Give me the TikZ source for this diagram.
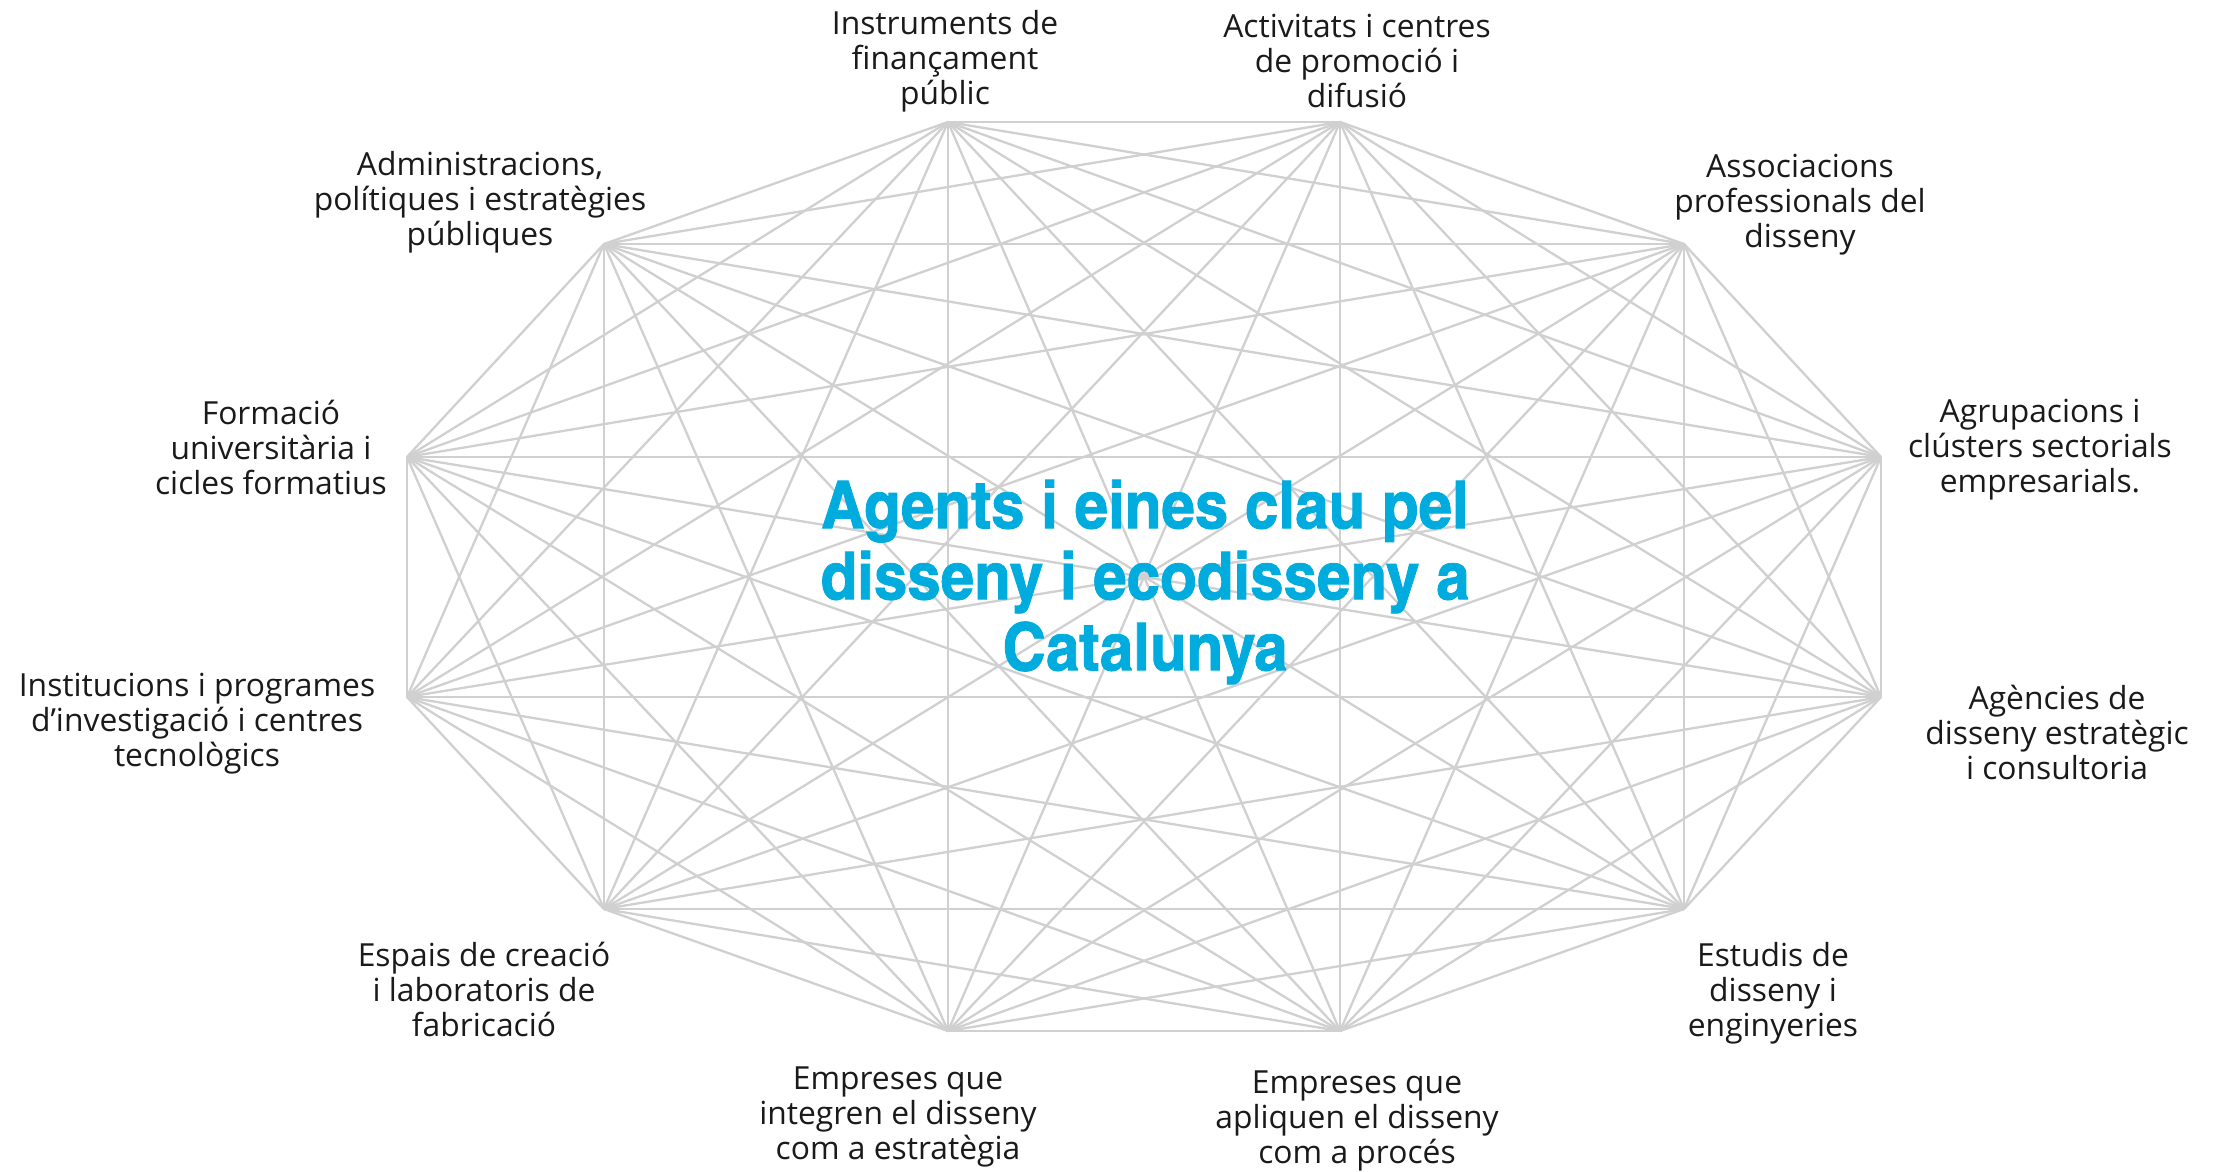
\documentclass[tikz,border=0pt]{standalone}
\usepackage{fontspec}
\setmainfont{Open Sans}
\newfontfamily\titlefont[FakeBold=1.2]{texgyreheroscn-bold.otf}
\definecolor{edgegray}{RGB}{208,208,208}
\definecolor{titleblue}{RGB}{0,172,222}
\definecolor{labeltext}{RGB}{26,26,26}
\newcommand{\titlelines}[1]{\scalebox{1.11}[1]{\setlength{\tabcolsep}{0pt}\begin{tabular}{c}#1\end{tabular}}}
\begin{document}
\begin{tikzpicture}[x=1pt,y=-1pt,
  edge/.style={draw=edgegray,line width=2.3pt},
  agent/.style={align=center,text=labeltext,inner sep=0pt,font=\fontsize{31.8}{35}\selectfont},
  titlebox/.style={text=titleblue,inner sep=0pt,font=\titlefont\fontsize{66}{71}\selectfont}]
\useasboundingbox (0,0) rectangle (2221,1171);
\fill[white] (0,0) rectangle (2221,1171);
% vertices
\coordinate (v1) at (948,122);
\coordinate (v2) at (1340,122);
\coordinate (v3) at (1684,244);
\coordinate (v4) at (1881,457);
\coordinate (v5) at (1881,697);
\coordinate (v6) at (1684,909);
\coordinate (v7) at (1340,1031);
\coordinate (v8) at (948,1031);
\coordinate (v9) at (604,909);
\coordinate (v10) at (407,697);
\coordinate (v11) at (407,457);
\coordinate (v12) at (604,244);
% complete graph
\foreach \i in {1,...,11}{
  \pgfmathtruncatemacro\k{\i+1}
  \foreach \j in {\k,...,12}{
    \draw[edge] (v\i) -- (v\j);
  }
}
% labels
\node[agent] (l1) at (945,61) {Instruments de\\finançament\\públic};
\node[agent] (l2) at (1357,61) {Activitats i centres\\de promoció i\\difusió};
\node[agent] (l3) at (1800,205) {Associacions\\professionals del\\disseny};
\node[agent] (l4) at (2040,450) {Agrupacions i\\clústers sectorials\\empresarials.};
\node[agent] (l5) at (2057,732) {Agències de\\disseny estratègic\\i consultoria};
\node[agent] (l6) at (1773,993) {Estudis de\\disseny i\\enginyeries};
\node[agent] (l7) at (1357,1121) {Empreses que\\apliquen el disseny\\com a procés};
\node[agent] (l8) at (898,1117) {Empreses que\\integren el disseny\\com a estratègia};
\node[agent] (l9) at (484,989) {Espais de creació\\i laboratoris de\\fabricació};
\node[agent] (l10) at (197,724) {Institucions i programes\\d’investigació i centres\\tecnològics};
\node[agent] (l11) at (271,447) {Formació\\universitària i\\cicles formatius};
\node[agent] (l12) at (480,202) {Administracions,\\polítiques i estratègies\\públiques};
% title
\node[titlebox] (title) at (1145,585) {\titlelines{Agents i eines clau pel\\disseny i ecodisseny a\\Catalunya}};
\end{tikzpicture}
\end{document}
